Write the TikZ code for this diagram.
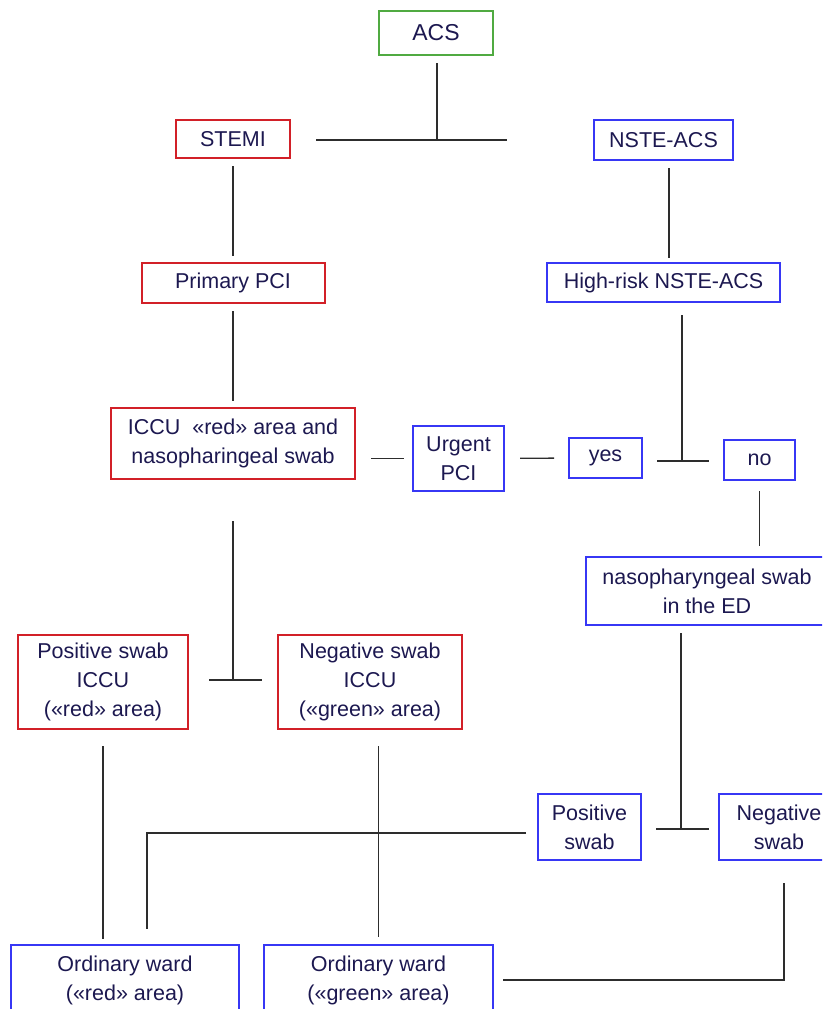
\documentclass[tikz,border=0pt]{standalone}
\usepackage{fontspec}
\setmainfont{Liberation Sans}
\usepackage{xcolor}
\usepackage{tikz}
\usetikzlibrary{positioning}

\definecolor{boxred}{RGB}{210,32,40}
\definecolor{boxblue}{RGB}{55,55,245}
\definecolor{boxgreen}{RGB}{80,170,65}
\definecolor{txtnavy}{RGB}{28,24,80}
\definecolor{linegray}{RGB}{45,45,45}

\begin{document}
\begin{tikzpicture}[x=1pt, y=-1pt, node distance=103pt,
	box/.style={draw, line width=2pt, inner sep=0pt, align=center, text=txtnavy, font=\fontsize{21.5}{29}\selectfont},
	redbox/.style={box, draw=boxred},
	bluebox/.style={box, draw=boxblue},
	greenbox/.style={box, draw=boxgreen},
	link/.style={draw=linegray, line width=1.4pt}]
		\useasboundingbox (0,0) rectangle (822,1009);
		\clip (0,0) rectangle (822,1009);
		
		\node[greenbox, minimum width=114pt, minimum height=44pt, font=\fontsize{23}{29}\selectfont] (acs) at (436,33) {ACS};
		\node[redbox, minimum width=114pt, minimum height=38pt] (stemi) at (233,139) {STEMI};
		\node[bluebox, minimum width=139pt, minimum height=40pt] (nste) at (663.5,140) {NSTE-ACS};
		
		\node[redbox, minimum width=183pt, minimum height=40pt, below=of stemi] (ppci) {Primary PCI};
		\node[bluebox, minimum width=233pt, minimum height=39pt, below=101pt of nste] (hrisk) {High-risk NSTE-ACS};
		
		\node[redbox, minimum width=244pt, minimum height=71pt, below=of ppci] (iccu) {ICCU~~«red» area and\\nasopharingeal swab};
		\node[bluebox, minimum width=91pt, minimum height=65pt] (upci) at (458.5,458.5) {Urgent\\PCI};
		\node[bluebox, minimum width=73pt, minimum height=40pt] (yes) at (605.5,458) {yes};
		\node[bluebox, minimum width=71pt, minimum height=40pt] (no) at (759.5,460) {no};
		\node[bluebox, minimum width=242pt, minimum height=68pt] (ned) at (707,591) {nasopharyngeal swab\\in the ED};
		
		%---------
		\node[redbox, minimum width=170pt, minimum height=94pt] (posi) at (103,682) {Positive swab\\ICCU\\(«red» area)};
		\node[redbox, minimum width=184pt, minimum height=94pt, right=88pt of posi] (negi) {Negative swab\\ICCU\\(«green» area)};
		\node[bluebox, minimum width=103pt, minimum height=66pt] (poss) at (589.5,827) {Positive\\swab};
		\node[bluebox, minimum width=120pt, minimum height=66pt, right=76pt of poss] (negs) {Negative\\swab};
		\node[bluebox, minimum width=228pt, minimum height=70pt] (ordr) at (125,980) {Ordinary ward\\(«red» area)};
		\node[bluebox, minimum width=229pt, minimum height=70pt, right=23pt of ordr] (ordg) {Ordinary ward\\(«green» area)};
		
		\coordinate (j0) at (669,200);
		\coordinate (j1) at (437,140);
		\coordinate (j2) at (682,461);
		\coordinate (j3) at (233,680);
		\coordinate (j4) at (681,829);
		\coordinate (k1) at (147,833);
		\coordinate (k2) at (784,980);
		
		\draw[link, shorten <=7pt] (acs.south -| j1)--(j1);
		\draw[link, shorten <=25pt, shorten >=86pt] (stemi.east |- j1)--(nste.west |- j1);
		\draw[link, shorten <=7pt, shorten >=6pt] (stemi)--(ppci);
		\draw[link, shorten <=7pt, shorten >=4pt] (nste.south -| j0)--(hrisk.north -| j0);
		\draw[link, shorten <=7pt, shorten >=6pt] (ppci)--(iccu);
		\draw[link, shorten <=12pt] (hrisk.south -| j2)--(j2);
		\draw[link, shorten <=14pt, shorten >=14pt] (yes.east |- j2)--(no.west |- j2);
		\draw[link, shorten <=15pt, shorten >=8pt] (iccu.east |- upci)--(upci.west);
		\draw[link, shorten <=15pt, shorten >=14pt] (upci)--(yes);
		\draw[link, shorten <=10pt, shorten >=10pt] (no.south)--(no.south |- ned.north);
		\draw[link, shorten <=41pt] (iccu.south)--(j3);
		\draw[link, shorten <=20pt, shorten >=15pt] (posi.east |- j3)--(negi.west |- j3);
		\draw[link, shorten <=7pt] (ned.south -| j4)--(j4);
		\draw[link, shorten <=14pt, shorten >=9pt] (poss.east |- j4)--(negs.west |- j4);
		\draw[link, shorten <=11pt, shorten >=15pt] (poss.west |- k1)--(k1)--(k1 |- ordr.north);
		\draw[link, shorten <=16pt, shorten >=5pt] (posi.south)--(posi.south |- ordr.north);
		\draw[link, shorten <=16pt, shorten >=7pt] (ordg.north |- negi.south)--(ordg.north);
		\draw[link, shorten <=22pt, shorten >=9pt] (negs.south -| k2)--(k2)--(ordg.east |- k2);
	\end{tikzpicture}
\end{document}
